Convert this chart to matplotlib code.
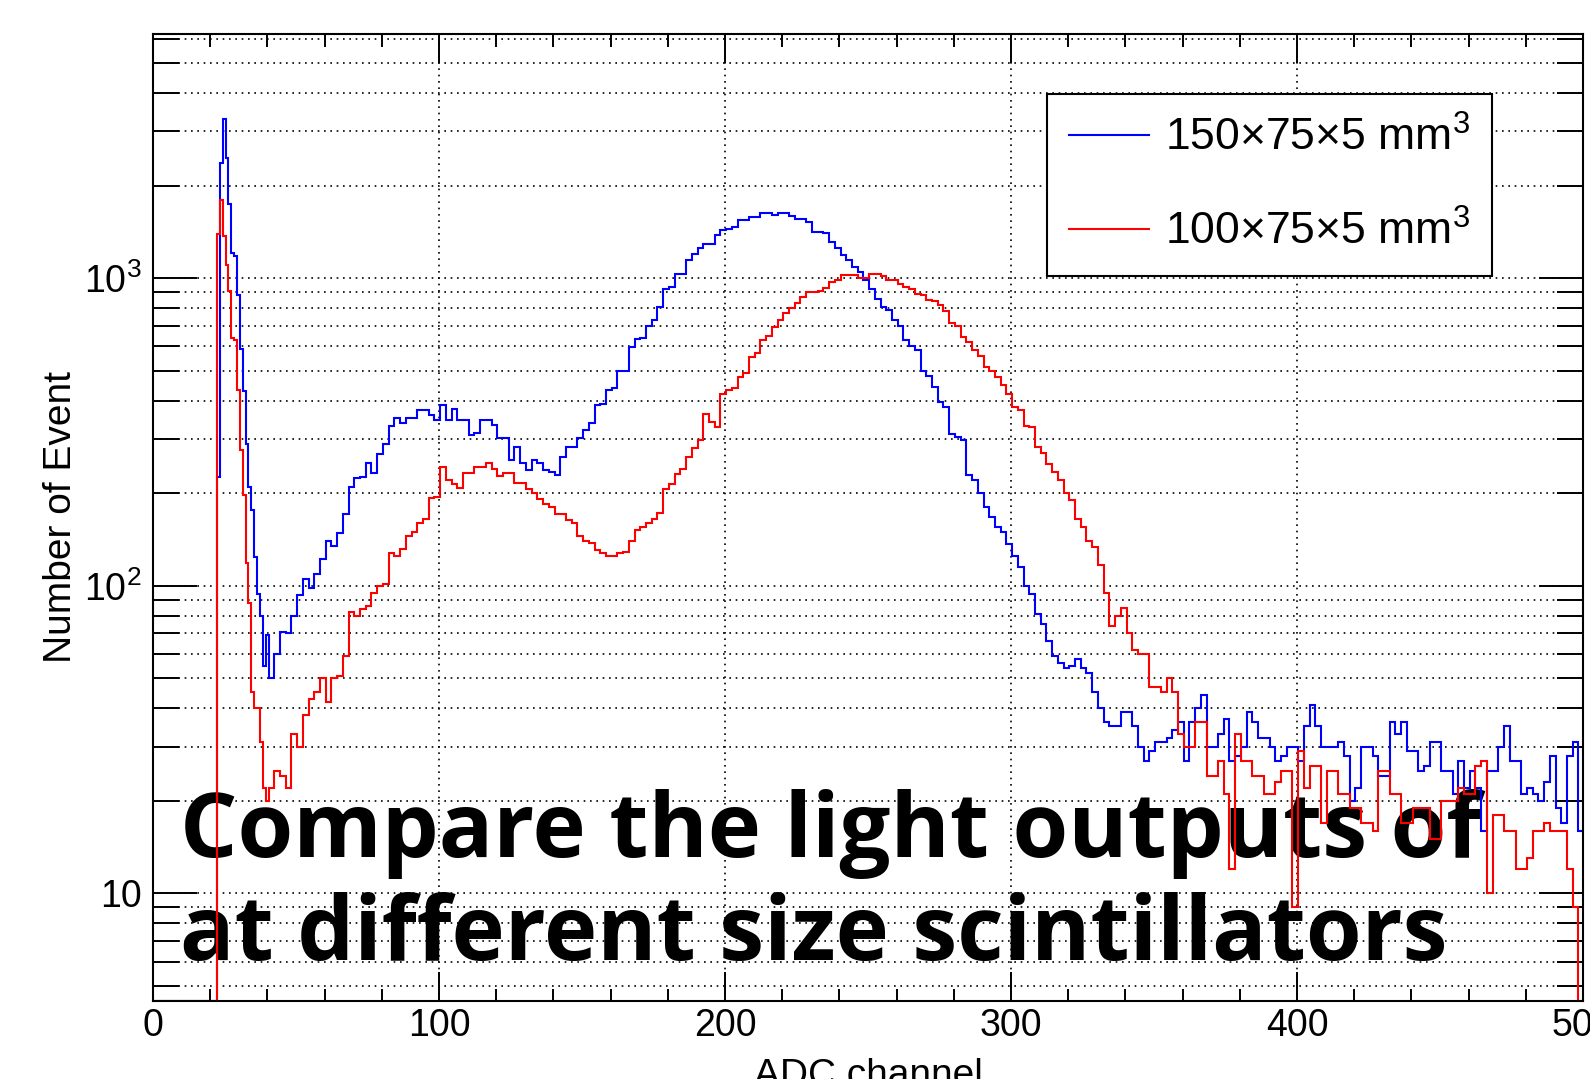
import numpy as np
import matplotlib
matplotlib.use('Agg')
import matplotlib.pyplot as plt
from matplotlib.lines import Line2D
from matplotlib.ticker import FixedLocator, FixedFormatter, LogLocator, NullFormatter, MultipleLocator

plt.rcParams['font.family'] = ['Liberation Sans', 'DejaVu Sans']
plt.rcParams['mathtext.default'] = 'regular'

# ADC spectra, 1-channel bins near the pedestal spike (22.4 .. 40.4)
blue_fine = [225, 2370, 3300, 2450, 1740, 1210, 1180, 880, 590, 430,
             290, 210, 176, 124, 94, 80, 55, 69]
red_fine = [1390, 1800, 1370, 1100, 910, 640, 630, 433, 277, 198,
            119, 88, 45, 40, 40, 31, 22, 20]

# 2-channel bins from 40.4 to 498.4 (one row = 20 channels)
blue_coarse = [
    50, 60, 71, 70, 80, 93, 105, 98, 109, 122,
    140, 135, 149, 171, 210, 224, 226, 250, 232, 269,
    290, 330, 350, 337, 350, 350, 372, 372, 360, 345,
    387, 345, 377, 345, 345, 310, 313, 345, 345, 333,
    302, 302, 257, 283, 250, 238, 257, 250, 238, 235,
    230, 263, 283, 283, 302, 320, 337, 387, 390, 433,
    440, 501, 501, 597, 636, 640, 701, 730, 803, 921,
    937, 1035, 1035, 1145, 1200, 1250, 1296, 1296, 1380, 1430,
    1450, 1470, 1545, 1545, 1584, 1584, 1623, 1623, 1610, 1623,
    1623, 1590, 1563, 1563, 1520, 1414, 1414, 1400, 1312, 1250,
    1188, 1150, 1088, 1050, 985, 920, 858, 807, 790, 730,
    700, 628, 600, 583, 500, 480, 443, 396, 380, 312,
    305, 297, 230, 220, 200, 180, 167, 155, 150, 137,
    125, 115, 100, 94, 81, 75, 66, 59, 56, 54,
    55, 58, 54, 52, 45, 40, 36, 35, 35, 39,
    39, 35, 30, 27, 29, 31, 31, 32, 34, 36,
    27, 36, 40, 44, 30, 30, 33, 37, 27, 28,
    30, 39, 36, 32, 32, 30, 27, 28, 30, 30,
    27, 35, 41, 35, 30, 30, 30, 31, 28, 20,
    22, 30, 30, 28, 24, 24, 36, 33, 36, 29,
    29, 25, 26, 31, 31, 25, 25, 21, 27, 22,
    25, 22, 16, 25, 25, 30, 35, 27, 27, 21,
    22, 21, 20, 23, 28, 19, 17, 28, 31,
]
red_coarse = [
    22, 25, 24, 22, 33, 30, 38, 43, 45, 50,
    42, 50, 51, 59, 82, 80, 84, 86, 95, 100,
    101, 128, 125, 132, 145, 150, 160, 165, 193, 195,
    244, 221, 215, 208, 232, 232, 244, 244, 250, 240,
    227, 232, 232, 216, 216, 206, 200, 191, 185, 181,
    171, 171, 164, 160, 145, 140, 138, 131, 128, 125,
    125, 128, 129, 140, 152, 155, 160, 165, 173, 206,
    215, 231, 240, 262, 280, 297, 363, 340, 328, 420,
    433, 440, 478, 490, 555, 570, 628, 650, 695, 730,
    768, 800, 828, 870, 903, 903, 910, 930, 973, 990,
    1022, 1022, 1022, 1000, 1000, 1035, 1035, 1020, 985, 985,
    960, 937, 920, 891, 880, 848, 840, 816, 780, 713,
    700, 644, 620, 583, 560, 514, 500, 477, 450, 421,
    380, 372, 330, 328, 283, 270, 249, 235, 220, 200,
    190, 165, 155, 140, 134, 117, 95, 74, 80, 85,
    70, 62, 60, 60, 47, 47, 45, 50, 45, 33,
    30, 30, 36, 36, 24, 24, 27, 21, 12, 33,
    27, 27, 24, 24, 21, 21, 23, 25, 25, 9,
    29, 22, 26, 26, 17, 25, 25, 21, 21, 19,
    19, 17, 17, 16, 25, 25, 21, 21, 17, 17,
    19, 19, 19, 15, 15, 20, 20, 20, 22, 21,
    21, 26, 27, 10, 18, 18, 16, 16, 12, 12,
    13, 16, 16, 17, 16, 16, 16, 12, 9,
]
blue_last = 16
red_last = 0

labels = ['150$\\times$75$\\times$5 mm$^{3}$', '100$\\times$75$\\times$5 mm$^{3}$']

edges = np.concatenate([[0.0], 22.4 + np.arange(18), 40.4 + 2.0 * np.arange(230), [500.0]])
blue = np.array([0] + blue_fine + blue_coarse + [blue_last], dtype=float)
red = np.array([0] + red_fine + red_coarse + [red_last], dtype=float)

ymin, ymax = 4.47, 6220
# empty bins are drawn on the frame like ROOT does
blue = np.where(blue > 0, blue, ymin)
red = np.where(red > 0, red, ymin)

fig = plt.figure(figsize=(15.9, 10.79), dpi=100)
ax = fig.add_axes([0.0962, 0.0723, 0.8994, 0.8962])

ax.stairs(blue, edges, baseline=None, color='#0000ff', lw=1.5, zorder=2)
ax.stairs(red, edges, baseline=None, color='#ff0000', lw=1.5, zorder=2)

ax.set_yscale('log')
ax.set_xlim(0, 500)
ax.set_ylim(ymin, ymax)

ax.xaxis.set_major_locator(MultipleLocator(100))
ax.xaxis.set_minor_locator(MultipleLocator(20))
ax.yaxis.set_major_locator(FixedLocator([10, 100, 1000]))
ax.yaxis.set_major_formatter(FixedFormatter(['10', '$10^{2}$', '$10^{3}$']))
ax.yaxis.set_minor_locator(LogLocator(base=10, subs=np.arange(2, 10)))
ax.yaxis.set_minor_formatter(NullFormatter())

ax.tick_params(which='both', direction='in', top=True, right=True, width=1.4, labelsize=27)
ax.tick_params(axis='x', which='major', length=21, pad=5)
ax.tick_params(axis='x', which='minor', length=9)
ax.tick_params(axis='y', which='major', length=32, pad=8)
ax.tick_params(axis='y', which='minor', length=19)

dots = (0, (1, 2.8))
ax.grid(True, axis='x', which='major', color='k', ls=dots, lw=1.2)
ax.grid(True, axis='y', which='both', color='k', ls=dots, lw=1.2)
for s in ax.spines.values():
    s.set_linewidth(1.5)

ax.set_ylabel('Number of Event', fontsize=28)
ax.yaxis.set_label_coords(-0.052, 0.5)
ax.set_xlabel('ADC channel', fontsize=28, va='top')
ax.xaxis.set_label_coords(0.5, -0.059)

handles = [Line2D([], [], color='#0000ff', lw=1.5), Line2D([], [], color='#ff0000', lw=1.5)]
leg = ax.legend(handles, labels, loc='upper left', bbox_to_anchor=(0.625, 0.938), borderaxespad=0,
                fontsize=32, frameon=True, fancybox=False, framealpha=1, edgecolor='k',
                handlelength=1.8, handletextpad=0.35, borderpad=0.5, labelspacing=1.15)
leg.get_frame().set_linewidth(1.5)
leg.set_zorder(5)

# caption lies under the grid and histograms
title_font = dict(fontsize=65, fontweight='bold', family=['Open Sans', 'DejaVu Sans'],
                  va='baseline', transform=fig.transFigure, zorder=0.5)
ax.text(180 / 1590, 1 - 857 / 1079, 'Compare the light outputs of', **title_font)
ax.text(180 / 1590, 1 - 960 / 1079, 'at different size scintillators', **title_font)

fig.savefig('out.png', dpi=100)
